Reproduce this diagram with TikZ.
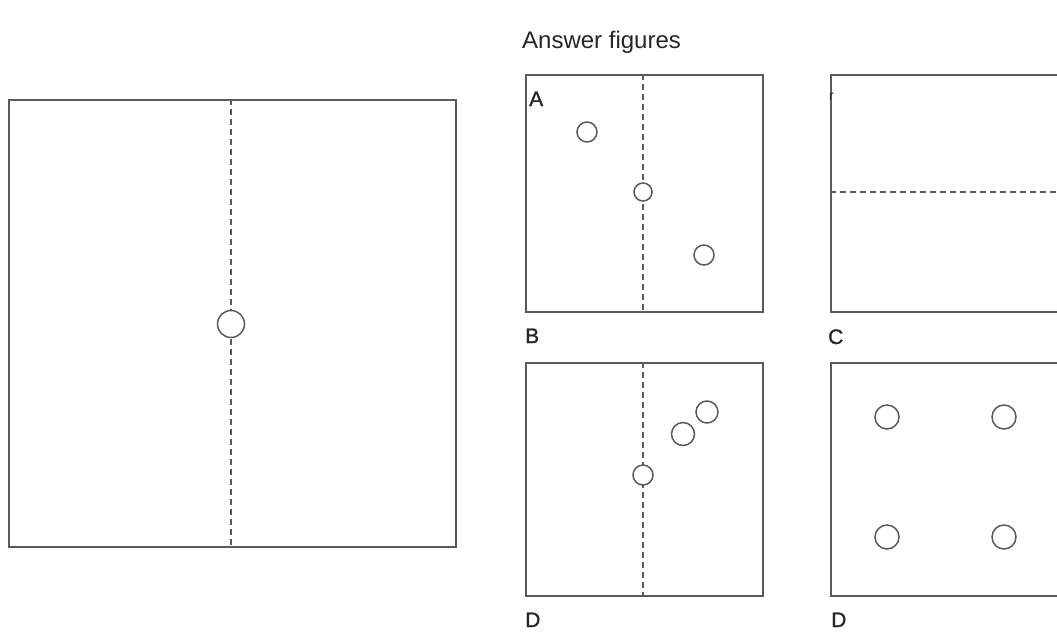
\documentclass[tikz,border=0pt]{standalone}
\usepackage{fontspec}
\setmainfont{Liberation Sans}
\newfontfamily\labfont[FakeBold=1.2]{Liberation Sans}
\begin{document}
\begin{tikzpicture}[x=1pt,y=-1pt,
  frame/.style 2 args={draw=linegray,line width=1.8pt,minimum width=#1,minimum height=#2,inner sep=0pt,anchor=north west},
  fold/.style={draw=linegray,line width=1.5pt,dash pattern=on 6pt off 4pt},
  hole/.style={circle,draw=linegray,line width=1.5pt,fill=white,inner sep=0pt,minimum size=#1},
  lab/.style={anchor=base west,inner sep=0pt,text=black!85,font=\labfont\fontsize{21}{21}\selectfont},
]
\definecolor{linegray}{RGB}{90,90,90}
\useasboundingbox (0,0) rectangle (1057,633);
\clip (0,0) rectangle (1057,633);
% question figure
\node[frame={447}{447}] (Q) at (8,99) {};
\coordinate (qtop) at (231,99);
\coordinate (qbot) at (231,546);
\draw[fold] (qtop) -- (qbot);
\node[hole=27] (q1) at (231,324) {};
% heading
\node[lab,font=\fontsize{24}{24}\selectfont] (title) at (522,48) {Answer figures};
% A
\node[frame={237}{237}] (A) at (525,74) {};
\coordinate (atop) at (643,74);
\coordinate (abot) at (643,311);
\draw[fold] (atop) -- (abot);
\node[lab] (la) at (529,106) {A};
\node[hole=20] (a1) at (587,132) {};
\node[hole=18] (a2) at (643,192) {};
\node[hole=20] (a3) at (704,255) {};
% upper right (C)
\node[frame={237}{237}] (C) at (830,74) {};
\coordinate (cl) at (830,192);
\coordinate (cr) at (1068,192);
\draw[fold] (cl) -- (cr);
\node[lab,font=\fontsize{14}{14}\selectfont] (lr) at (829,100) {r};
% labels between rows
\node[lab] (lb) at (525,343) {B};
\node[lab] (lc) at (828,344) {C};
% lower left (D)
\node[frame={237}{233}] (B) at (525,362) {};
\coordinate (btop) at (643,362);
\coordinate (bbot) at (643,595);
\draw[fold] (btop) -- (bbot);
\node[hole=20] (b1) at (643,475) {};
\node[hole=23] (b2) at (683,434) {};
\node[hole=22] (b3) at (707,412) {};
% lower right
\node[frame={237}{233}] (D) at (830,362) {};
\node[hole=24] (d1) at (887,417) {};
\node[hole=24] (d2) at (1004,417) {};
\node[hole=24] (d3) at (887,537) {};
\node[hole=24] (d4) at (1004,537) {};
% bottom labels
\node[lab] (ld1) at (525,627) {D};
\node[lab] (ld2) at (831,627) {D};
\end{tikzpicture}
\end{document}
